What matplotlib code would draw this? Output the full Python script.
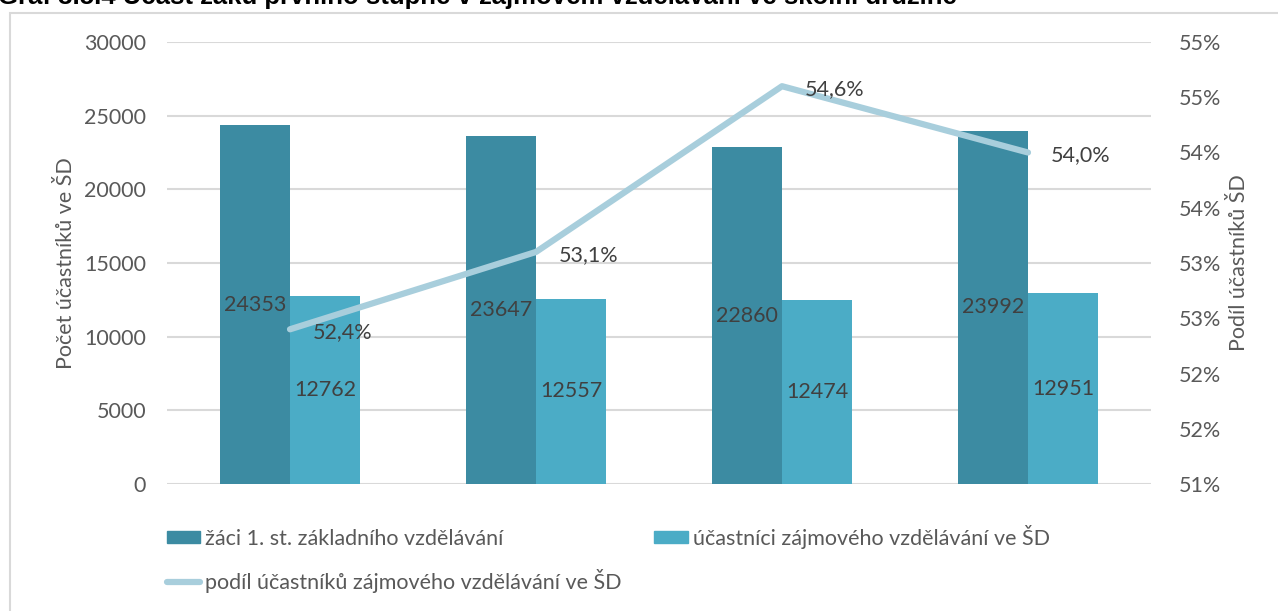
import math
import matplotlib
matplotlib.use('Agg')
import matplotlib.pyplot as plt
from matplotlib.patches import Rectangle, Patch
from matplotlib.lines import Line2D
from matplotlib.ticker import FixedLocator, FuncFormatter

# --- data ---
zaci = [24353, 23647, 22860, 23992]
ucastnici = [12762, 12557, 12474, 12951]
podil = [52.4, 53.1, 54.6, 54.0]

lbl_zaci = "žáci 1. st. základního vzdělávání"
lbl_ucast = "účastníci zájmového vzdělávání ve ŠD"
lbl_podil = "podíl účastníků zájmového vzdělávání ve ŠD"
title = "Graf 3.5.4 Účast žáků prvního stupně v zájmovém vzdělávání ve školní družině"

C_DARK = '#3C8BA2'
C_LIGHT = '#4BACC6'
C_LINE = '#A8CEDC'
C_GRID = '#D9D9D9'
C_TXT = '#595959'
C_LBL = '#404040'

plt.rcParams['font.family'] = ['Lato', 'DejaVu Sans']
FS = 15.5

fig = plt.figure(figsize=(12.78, 6.11), dpi=100)
W, H = 1278, 611
ax = fig.add_axes([167 / W, 1 - 484 / H, (1151 - 167) / W, (484 - 42) / H])

# frame of chart area
fig.patches.append(Rectangle((9.5 / W, -0.1), 1.2, 1 - 13 / H + 0.1, transform=fig.transFigure,
                             fill=False, edgecolor=C_GRID, linewidth=1.5))
fig.text(-2 / W, 1 - 4 / H, title, fontsize=18.5, fontweight='bold', ha='left', va='baseline',
         family=['Liberation Sans', 'DejaVu Sans'])

x = list(range(len(zaci)))
bw = 70 / 246
b1 = ax.bar([i - bw / 2 for i in x], zaci, width=bw, color=C_DARK, zorder=2)
b2 = ax.bar([i + bw / 2 for i in x], ucastnici, width=bw, color=C_LIGHT, zorder=2)
for bars, vals in ((b1, zaci), (b2, ucastnici)):
    for r, v in zip(bars, vals):
        ax.text(r.get_x() + r.get_width() / 2, v / 2, str(v), ha='center', va='center',
                fontsize=FS, color=C_LBL, zorder=4)

ax.set_xlim(-0.5, len(zaci) - 0.5)
ax.set_ylim(0, 30000)
ax.set_yticks(range(0, 30001, 5000))
ax.set_xticks([])
ax.grid(axis='y', color=C_GRID, linewidth=1.5, zorder=0)
for s in ax.spines.values():
    s.set_visible(False)
ax.tick_params(axis='y', length=0, labelsize=FS, labelcolor=C_TXT, pad=15)
ax.set_ylabel("Počet účastníků ve ŠD", fontsize=FS, color=C_TXT, labelpad=6)

ax2 = ax.twinx()
ax2.plot(x, podil, color=C_LINE, linewidth=4.5, solid_capstyle='round', zorder=3)
for xi, v in zip(x, podil):
    ax2.annotate(f"{v:.1f}%".replace('.', ','), (xi, v), xytext=(23, -3), textcoords='offset pixels',
                 ha='left', va='center', fontsize=FS, color=C_LBL)
ax2.set_ylim(51, 55)
ax2.yaxis.set_major_locator(FixedLocator([51 + 0.5 * k for k in range(9)]))
ax2.yaxis.set_major_formatter(FuncFormatter(lambda v, p: f"{math.floor(v + 0.5)}%"))
for s in ax2.spines.values():
    s.set_visible(False)
ax2.tick_params(axis='y', length=0, labelsize=FS, labelcolor=C_TXT, pad=20)
ax2.set_ylabel("Podíl účastníků ŠD", fontsize=FS, color=C_TXT, labelpad=6)

handles = [Patch(color=C_DARK), Line2D([], [], color=C_LINE, linewidth=4.5, solid_capstyle='round'),
           Patch(color=C_LIGHT)]
labels = [lbl_zaci, lbl_podil, lbl_ucast]
fig.legend(handles, labels, ncol=2, loc='upper left', bbox_to_anchor=(158 / W, 1 - 516 / H),
           frameon=False, fontsize=FS, labelcolor=C_TXT, handlelength=1.55, handleheight=0.55,
           handletextpad=0.25, columnspacing=1.5, labelspacing=0.95, borderaxespad=0)

fig.savefig('out.png', dpi=100)
